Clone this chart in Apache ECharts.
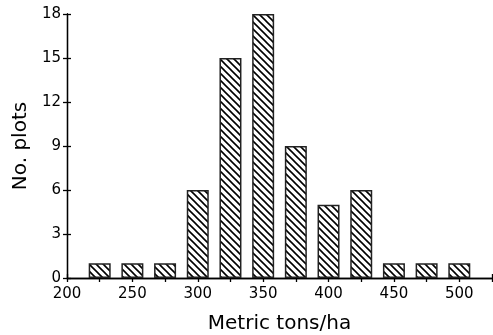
<!DOCTYPE html>
<html>
<head>
<meta charset="utf-8">
<script src="https://cdn.jsdelivr.net/npm/echarts@6/dist/echarts.min.js"></script>
<style>
  html, body { margin: 0; padding: 0; background: #fff; }
  #chart { width: 493px; height: 335px; }
</style>
</head>
<body>
<div id="chart"></div>
<script>
// bin centres (metric tons/ha) and counts
const binCenters = [225, 250, 275, 300, 325, 350, 375, 400, 425, 450, 475, 500];
const plotCounts = [1, 1, 1, 6, 15, 18, 9, 5, 6, 1, 1, 1];

// diagonal hatch fill like the original plotter output
function makeHatch() {
  const c = document.createElement('canvas');
  c.width = 7;
  c.height = 7;
  const ctx = c.getContext('2d');
  ctx.fillStyle = '#fff';
  ctx.fillRect(0, 0, 7, 7);
  ctx.strokeStyle = '#000';
  ctx.lineWidth = 1.6;
  ctx.beginPath();
  ctx.moveTo(-1, -1); ctx.lineTo(8, 8);
  ctx.moveTo(-8, -1); ctx.lineTo(1, 8);
  ctx.moveTo(6, -1); ctx.lineTo(15, 8);
  ctx.stroke();
  return c;
}

const myChart = echarts.init(document.getElementById('chart'));
const tickFont = { color: '#000', fontSize: 15, fontFamily: 'DejaVu Sans' };
const nameFont = { color: '#000', fontSize: 20, fontFamily: 'DejaVu Sans' };
const lineStyle = { color: '#000', width: 1.3 };

const xBase = {
  type: 'value', min: 200, max: 525, interval: 25,
  splitLine: { show: false },
  axisLine: { lineStyle: lineStyle }
};
const yBase = {
  type: 'value', min: 0, max: 18, interval: 3,
  splitLine: { show: false },
  axisLine: { lineStyle: lineStyle }
};

const option = {
  animation: false,
  grid: { left: 67, right: 1, top: 14, bottom: 57, outerBoundsMode: 'none', containLabel: false },
  xAxis: [
    Object.assign({}, xBase, {
      name: 'Metric tons/ha',
      nameLocation: 'middle',
      nameGap: 36,
      nameTextStyle: nameFont,
      axisTick: { inside: false, length: 4, lineStyle: lineStyle },
      axisLabel: Object.assign({}, tickFont, {
        margin: 9,
        formatter: v => (v % 50 === 0 && v <= 500) ? String(v) : ''
      })
    }),
    Object.assign({}, xBase, {
      position: 'bottom',
      axisTick: { inside: true, length: 4, lineStyle: lineStyle },
      axisLabel: { show: false }
    })
  ],
  yAxis: [
    Object.assign({}, yBase, {
      name: 'No. plots',
      nameLocation: 'middle',
      nameGap: 36,
      nameTextStyle: nameFont,
      axisTick: { inside: false, length: 4, lineStyle: lineStyle },
      axisLabel: Object.assign({}, tickFont, { margin: 6 })
    }),
    Object.assign({}, yBase, {
      position: 'left',
      axisTick: { inside: true, length: 4, lineStyle: lineStyle },
      axisLabel: { show: false }
    })
  ],
  series: [
    {
      type: 'bar',
      xAxisIndex: 0,
      yAxisIndex: 0,
      barWidth: 22,
      data: binCenters.map((x, i) => [x, plotCounts[i]]),
      itemStyle: {
        color: { image: makeHatch(), repeat: 'repeat' },
        borderColor: '#222',
        borderWidth: 1.5
      }
    }
  ]
};
myChart.setOption(option);
</script>
</body>
</html>
